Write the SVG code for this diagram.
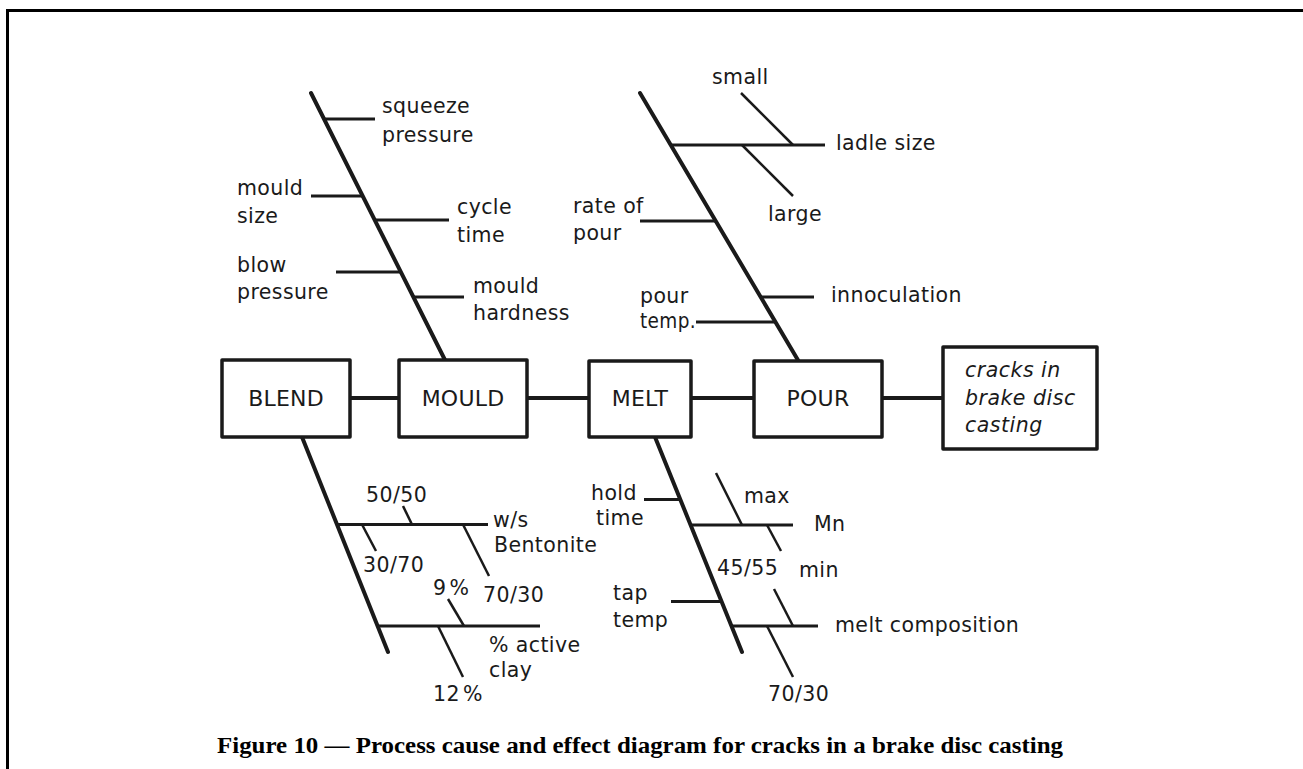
<svg xmlns="http://www.w3.org/2000/svg" width="1303" height="769" viewBox="0 0 1303 769">
  <style>
    .frame { fill: none; stroke: #000; stroke-width: 3; }
    .box { fill: #fff; stroke: #1a1a1a; stroke-width: 3.5; stroke-linejoin: round; }
    .link { stroke: #1a1a1a; stroke-width: 4; }
    .spine { stroke: #1a1a1a; stroke-width: 4; stroke-linecap: round; }
    .bone { stroke: #1a1a1a; stroke-width: 3; }
    .tick { stroke: #1a1a1a; stroke-width: 2.5; }
    .lbl { font-family: "DejaVu Sans", "Liberation Sans", sans-serif; font-size: 20.5px; letter-spacing: 0.4px; fill: #1a1a1a; }
    .step { font-family: "DejaVu Sans", "Liberation Sans", sans-serif; font-size: 22px; letter-spacing: 0.2px; fill: #1a1a1a; text-anchor: middle; }
    .effect { font-family: "DejaVu Sans", "Liberation Sans", sans-serif; font-size: 20.5px; font-style: italic; letter-spacing: 0.5px; fill: #1a1a1a; }
    .caption { font-family: "Liberation Serif", "DejaVu Serif", serif; font-size: 23px; font-weight: bold; fill: #000; }
  </style>

  <!-- page frame -->
  <path class="frame" d="M7.5 769 V10.5 H1303"/>

  <!-- links between process steps -->
  <g id="connectors">
    <line class="link" x1="350" y1="398" x2="399" y2="398"/>
    <line class="link" x1="527" y1="398" x2="589" y2="398"/>
    <line class="link" x1="691" y1="398" x2="754" y2="398"/>
    <line class="link" x1="882" y1="398" x2="943" y2="398"/>
  </g>

  <!-- causes feeding MOULD -->
  <g id="causes-mould">
    <line class="spine" x1="311" y1="93" x2="445" y2="360"/>
    <line class="bone" x1="324" y1="119" x2="375" y2="119"/>
    <line class="bone" x1="311" y1="196" x2="363" y2="196"/>
    <line class="bone" x1="375" y1="220" x2="449" y2="220"/>
    <line class="bone" x1="336" y1="272" x2="401" y2="272"/>
    <line class="bone" x1="413" y1="297" x2="464" y2="297"/>
    <text class="lbl" x="382" y="113">squeeze</text>
    <text class="lbl" x="382" y="141.5">pressure</text>
    <text class="lbl" x="237" y="195">mould</text>
    <text class="lbl" x="237" y="222.5">size</text>
    <text class="lbl" x="457" y="214">cycle</text>
    <text class="lbl" x="457" y="241.5">time</text>
    <text class="lbl" x="237" y="271.5">blow</text>
    <text class="lbl" x="237" y="298.5">pressure</text>
    <text class="lbl" x="473" y="292.5">mould</text>
    <text class="lbl" x="473" y="319.5">hardness</text>
  </g>

  <!-- causes feeding POUR -->
  <g id="causes-pour">
    <line class="spine" x1="640" y1="93" x2="798.5" y2="361"/>
    <line class="bone" x1="671" y1="145" x2="825" y2="145"/>
    <line class="tick" x1="741" y1="93" x2="793" y2="145"/>
    <line class="tick" x1="742" y1="145" x2="793" y2="196"/>
    <line class="bone" x1="640" y1="221" x2="716" y2="221"/>
    <line class="bone" x1="761" y1="297" x2="814" y2="297"/>
    <line class="bone" x1="696" y1="322" x2="775" y2="322"/>
    <text class="lbl" x="712" y="84">small</text>
    <text class="lbl" x="836" y="150">ladle size</text>
    <text class="lbl" x="768" y="221">large</text>
    <text class="lbl" x="573" y="213">rate of</text>
    <text class="lbl" x="573" y="240">pour</text>
    <text class="lbl" x="831" y="302">innoculation</text>
    <text class="lbl" x="640" y="303">pour</text>
    <text class="lbl" x="640" y="328" textLength="56" lengthAdjust="spacingAndGlyphs">temp.</text>
  </g>

  <!-- causes feeding BLEND -->
  <g id="causes-blend">
    <line class="spine" x1="302" y1="437" x2="388" y2="652"/>
    <line class="bone" x1="337" y1="524.5" x2="488" y2="524.5"/>
    <line class="tick" x1="403" y1="506" x2="412" y2="524.5"/>
    <line class="tick" x1="362" y1="524.5" x2="376" y2="551"/>
    <line class="tick" x1="463" y1="524.5" x2="489" y2="576"/>
    <line class="bone" x1="378" y1="626" x2="540" y2="626"/>
    <line class="tick" x1="448" y1="599" x2="464" y2="626"/>
    <line class="tick" x1="438" y1="626" x2="463" y2="677"/>
    <text class="lbl" x="366" y="502">50/50</text>
    <text class="lbl" x="493" y="527">w/s</text>
    <text class="lbl" x="494" y="552">Bentonite</text>
    <text class="lbl" x="363" y="572">30/70</text>
    <text class="lbl" x="483" y="602">70/30</text>
    <text class="lbl" x="433" y="595">9<tspan dx="3">%</tspan></text>
    <text class="lbl" x="489" y="652">% active</text>
    <text class="lbl" x="489" y="677">clay</text>
    <text class="lbl" x="433" y="701">12<tspan dx="3">%</tspan></text>
  </g>

  <!-- causes feeding MELT -->
  <g id="causes-melt">
    <line class="spine" x1="655" y1="437" x2="742" y2="652"/>
    <line class="bone" x1="644" y1="499.5" x2="680" y2="499.5"/>
    <line class="bone" x1="691" y1="525" x2="793" y2="525"/>
    <line class="tick" x1="716" y1="473" x2="742" y2="525"/>
    <line class="tick" x1="767" y1="525" x2="781" y2="551"/>
    <line class="bone" x1="671" y1="601.5" x2="721" y2="601.5"/>
    <line class="bone" x1="732" y1="626" x2="818" y2="626"/>
    <line class="tick" x1="774" y1="589" x2="793" y2="626"/>
    <line class="tick" x1="767" y1="626" x2="793" y2="677"/>
    <text class="lbl" x="591" y="500">hold</text>
    <text class="lbl" x="596" y="525">time</text>
    <text class="lbl" x="744" y="503">max</text>
    <text class="lbl" x="814" y="531">Mn</text>
    <text class="lbl" x="717" y="575">45/55</text>
    <text class="lbl" x="799" y="577">min</text>
    <text class="lbl" x="613" y="600">tap</text>
    <text class="lbl" x="613" y="627">temp</text>
    <text class="lbl" x="835" y="632">melt composition</text>
    <text class="lbl" x="768" y="701">70/30</text>
  </g>

  <!-- process steps -->
  <g id="blend">
    <rect class="box" x="222" y="360" width="128" height="77"/>
    <text class="step" x="286" y="406">BLEND</text>
  </g>
  <g id="mould">
    <rect class="box" x="399" y="360" width="128" height="77"/>
    <text class="step" x="463" y="406">MOULD</text>
  </g>
  <g id="melt">
    <rect class="box" x="589" y="361" width="102" height="76"/>
    <text class="step" x="640" y="406">MELT</text>
  </g>
  <g id="pour">
    <rect class="box" x="754" y="361" width="128" height="76"/>
    <text class="step" x="818" y="406">POUR</text>
  </g>
  <g id="effect">
    <rect class="box" x="943" y="347" width="154" height="102"/>
    <text class="effect" x="965" y="377">cracks in</text>
    <text class="effect" x="965" y="405">brake disc</text>
    <text class="effect" x="965" y="432">casting</text>
  </g>

  <text class="caption" x="217" y="753" textLength="846" lengthAdjust="spacingAndGlyphs">Figure 10 — Process cause and effect diagram for cracks in a brake disc casting</text>
</svg>
